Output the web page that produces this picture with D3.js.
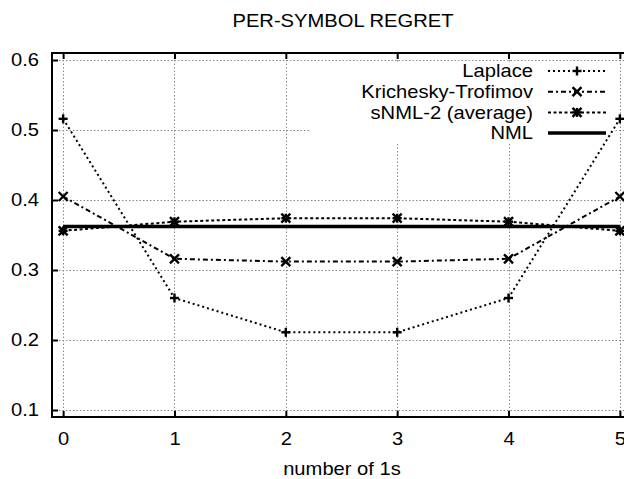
<!DOCTYPE html>
<html>
<head>
<meta charset="utf-8">
<script src="https://cdn.jsdelivr.net/npm/d3@7"></script>
<style>
  body { margin: 0; background: #fff; }
  svg { display: block; font-family: "Liberation Sans", Arial, sans-serif; }
</style>
</head>
<body>
<svg id="chart" width="624" height="479"></svg>
<script>
// data
const ones = [0, 1, 2, 3, 4, 5];
const laplace = [0.516, 0.260, 0.211, 0.211, 0.260, 0.516];
const krichesky = [0.405, 0.316, 0.312, 0.312, 0.316, 0.405];
const snml = [0.356, 0.369, 0.374, 0.374, 0.369, 0.356];
const nml = [0.362, 0.362, 0.362, 0.362, 0.362, 0.362];
const yTicks = [0.1, 0.2, 0.3, 0.4, 0.5, 0.6];
const seriesNames = ["Laplace", "Krichesky-Trofimov", "sNML-2 (average)", "NML"];

const series = [
    {name: seriesNames[0], values: laplace, dash: "2,3", width: 2, marker: "plus"},
    {name: seriesNames[1], values: krichesky, dash: "5,3,2,3", width: 2, marker: "cross"},
    {name: seriesNames[2], values: snml, dash: "3,2.5", width: 2, marker: "star"},
    {name: seriesNames[3], values: nml, dash: null, width: 3.5, marker: null}
];

const svg = d3.select("#chart");
const plotL = 52, plotR = 631, plotT = 53, plotB = 417;
const fontPx = "18px";
const wide = 1.12; // reference lettering is a bit wider than Liberation Sans

// widen text horizontally while keeping its anchor point where it was
function stretch(sel) {
    sel.each(function() {
        const t = d3.select(this);
        const x0 = +t.attr("x") || 0;
        t.attr("x", x0 / wide).attr("transform", `scale(${wide},1)`);
    });
}

const x = d3.scaleLinear().domain([-0.1, 5.1]).range([plotL, plotR]);
const y = d3.scaleLinear().domain([0.09, 0.61]).range([plotB, plotT]);

// grid
const grid = svg.append("g").attr("stroke", "#888").attr("stroke-width", 1)
    .attr("stroke-dasharray", "1.5,2");
grid.selectAll(".gx").data(ones).enter().append("line")
    .attr("x1", d => Math.round(x(d)) + 0.5).attr("x2", d => Math.round(x(d)) + 0.5)
    .attr("y1", plotT).attr("y2", plotB);
grid.selectAll(".gy").data(yTicks).enter().append("line")
    .attr("x1", plotL).attr("x2", plotR)
    .attr("y1", d => Math.round(y(d)) + 0.5).attr("y2", d => Math.round(y(d)) + 0.5);

// key box hides the grid behind it
svg.append("rect").attr("x", 310).attr("y", 62).attr("width", 305).attr("height", 81)
    .attr("fill", "#fff");

// axes (ticks inside, mirrored)
const tickLen = 6;
const xAxisB = d3.axisBottom(x).tickValues(ones).tickSize(-tickLen).tickPadding(15).tickFormat(d3.format("d"));
const xAxisT = d3.axisTop(x).tickValues(ones).tickSize(-tickLen).tickFormat("");
const yAxisL = d3.axisLeft(y).tickValues(yTicks).tickSize(-tickLen).tickPadding(13).tickFormat(d3.format(".1f"));

function styleAxis(g) {
    g.select(".domain").remove();
    g.selectAll(".tick line").attr("stroke", "#000").attr("stroke-width", 2);
    g.selectAll(".tick text").attr("fill", "#000").style("font-size", fontPx).call(stretch);
}
svg.append("g").attr("transform", `translate(0,${plotB})`).call(xAxisB).call(styleAxis);
svg.append("g").attr("transform", `translate(0,${plotT})`).call(xAxisT).call(styleAxis);
svg.append("g").attr("transform", `translate(${plotL},0)`).call(yAxisL).call(styleAxis);

// frame
svg.append("rect").attr("x", plotL).attr("y", plotT).attr("width", plotR - plotL).attr("height", plotB - plotT)
    .attr("fill", "none").attr("stroke", "#000").attr("stroke-width", 2);

// markers
function drawMarker(g, type, cx, cy) {
    const s = 4.5;
    if (type === "plus" || type === "star") {
        g.append("line").attr("x1", cx - s).attr("x2", cx + s).attr("y1", cy).attr("y2", cy);
        g.append("line").attr("x1", cx).attr("x2", cx).attr("y1", cy - s).attr("y2", cy + s);
    }
    if (type === "cross" || type === "star") {
        g.append("line").attr("x1", cx - s).attr("x2", cx + s).attr("y1", cy - s).attr("y2", cy + s);
        g.append("line").attr("x1", cx - s).attr("x2", cx + s).attr("y1", cy + s).attr("y2", cy - s);
    }
}

const line = d3.line().x((d, i) => x(ones[i])).y(d => y(d));

series.forEach(s => {
    svg.append("path").datum(s.values)
        .attr("d", line)
        .attr("fill", "none").attr("stroke", "#000")
        .attr("stroke-width", s.width)
        .attr("stroke-dasharray", s.dash);
    if (s.marker) {
        const mg = svg.append("g").attr("stroke", "#000").attr("stroke-width", 2.4);
        s.values.forEach((v, i) => drawMarker(mg, s.marker, x(ones[i]), y(v)));
    }
});

// key
const key = svg.append("g");
series.forEach((s, i) => {
    const ry = 71 + i * 20.7;
    key.append("text").attr("x", 533).attr("y", ry).attr("dy", "0.35em")
        .attr("text-anchor", "end").style("font-size", fontPx).text(s.name).call(stretch);
    key.append("line").attr("x1", 548).attr("x2", 606).attr("y1", ry).attr("y2", ry)
        .attr("stroke", "#000").attr("stroke-width", s.width).attr("stroke-dasharray", s.dash);
    if (s.marker) {
        const mg = key.append("g").attr("stroke", "#000").attr("stroke-width", 2.4);
        drawMarker(mg, s.marker, 577, ry);
    }
});

// titles
svg.append("text").attr("x", 343).attr("y", 27).attr("text-anchor", "middle")
    .style("font-size", fontPx).text("PER-SYMBOL REGRET").call(stretch);
svg.append("text").attr("x", 342).attr("y", 475).attr("text-anchor", "middle")
    .style("font-size", fontPx).text("number of 1s").call(stretch);
</script>
</body>
</html>
